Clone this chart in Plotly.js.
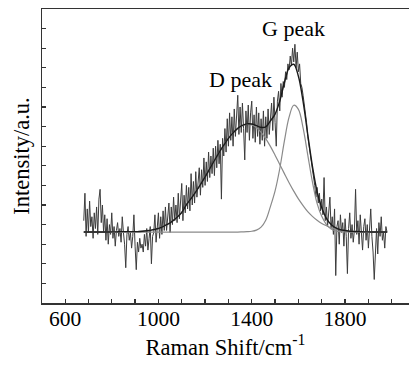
<!DOCTYPE html>
<html>
<head>
<meta charset="utf-8">
<script src="https://cdn.plot.ly/plotly-3.0.1.min.js"></script>
<style>html,body{margin:0;padding:0;background:#fff;}#chart{width:409px;height:367px;}</style>
</head>
<body>
<div id="chart"></div>
<script>
// Raw Raman spectrum, 680..1980 cm-1 step 5
const rawStart = 680, rawStep = 5;
const rawIntensity = [
  4.2, 5.6, 3.4, 4.8, 3.6, 5.2, 3.9, 4.4, 3.3, 4.6,
  3.8, 4.9, 3.5, 5.3, 5.8, 4.1, 5.0, 3.6, 4.5, 3.2,
  4.3, 3.0, 4.0, 3.5, 4.6, 3.3, 3.9, 2.9, 3.7, 4.1,
  3.4, 3.8, 3.1, 4.4, 3.6, 3.0, 1.8, 3.5, 3.9, 3.2,
  3.6, 2.8, 3.4, 4.5, 2.9, 1.7, 3.1, 2.6, 3.3, 2.8,
  3.0, 2.6, 3.5, 2.9, 3.8, 2.7, 3.3, 3.9, 2.0, 3.4,
  3.6, 4.5, 3.1, 4.2, 4.6, 3.3, 4.4, 3.5, 4.7, 3.7,
  4.9, 3.7, 4.5, 5.1, 3.6, 4.9, 4.0, 5.4, 4.2, 5.0,
  4.1, 5.6, 4.3, 5.2, 6.1, 4.2, 5.5, 4.6, 6.0, 4.8,
  5.9, 4.7, 6.6, 5.0, 6.2, 5.1, 6.7, 5.4, 6.4, 6.9,
  5.5, 6.8, 5.9, 7.4, 6.0, 7.2, 6.2, 7.7, 6.4, 7.5,
  6.6, 7.9, 6.5, 8.0, 6.9, 8.3, 7.1, 8.1, 5.3, 8.4,
  7.5, 8.9, 7.7, 9.4, 8.0, 9.7, 8.3, 9.5, 8.0, 9.9,
  8.5, 9.8, 10.6, 8.6, 10.0, 8.7, 10.2, 8.9, 7.3, 9.8,
  8.7, 10.1, 8.3, 9.7, 10.3, 8.4, 9.6, 8.2, 10.0, 8.5,
  9.7, 8.1, 9.4, 8.3, 9.8, 8.0, 9.5, 8.4, 9.9, 8.6,
  9.6, 10.2, 8.8, 10.5, 9.2, 8.0, 10.3, 10.8, 9.8, 11.2,
  10.5, 11.3, 11.0, 11.8, 11.4, 12.2, 11.9, 12.6, 12.1, 13.0,
  12.3, 13.2, 12.0, 12.8, 11.8, 12.2, 11.2, 11.0, 10.6, 10.2,
  9.6, 9.2, 8.5, 8.1, 7.6, 7.2, 6.8, 6.3, 6.0, 5.4,
  5.9, 5.1, 5.6, 4.7, 5.3, 4.5, 6.4, 4.2, 4.9, 3.9,
  4.6, 5.4, 3.8, 4.4, 3.5, 4.8, 1.4, 3.9, 4.2, 3.0,
  4.5, 3.6, 4.1, 2.9, 4.3, 3.4, 1.5, 3.8, 4.6, 3.3,
  4.0, 3.1, 3.7, 5.8, 3.5, 4.2, 3.0, 4.5, 3.6, 2.7,
  3.9, 4.3, 3.2, 4.0, 2.8, 3.7, 4.8, 3.4, 2.6, 1.2,
  3.0, 3.8, 2.5, 4.1, 3.4, 4.4, 3.2, 3.6, 2.8, 3.9,
  3.6
];
const rawShift = rawIntensity.map((_, i) => rawStart + i * rawStep);

// Fitted curves, 680..1980 cm-1 step 20
const fitShift = [
  680, 700, 720, 740, 760, 780, 800, 820, 840, 860,
  880, 900, 920, 940, 960, 980, 1000, 1020, 1040, 1060,
  1080, 1100, 1120, 1140, 1160, 1180, 1200, 1220, 1240, 1260,
  1280, 1300, 1320, 1340, 1360, 1380, 1400, 1420, 1440, 1460,
  1480, 1500, 1520, 1540, 1560, 1580, 1600, 1620, 1640, 1660,
  1680, 1700, 1720, 1740, 1760, 1780, 1800, 1820, 1840, 1860,
  1880, 1900, 1920, 1940, 1960, 1980
];
const dPeakFit = [
  3.62, 3.62, 3.62, 3.62, 3.62, 3.62, 3.63, 3.63, 3.64, 3.64,
  3.64, 3.64, 3.65, 3.67, 3.70, 3.75, 3.80, 3.90, 4.02, 4.18,
  4.38, 4.62, 5.02, 5.33, 5.67, 6.04, 6.43, 6.85, 7.27, 7.67,
  8.05, 8.40, 8.68, 8.91, 9.05, 9.12, 9.09, 8.95, 8.71, 8.39,
  7.99, 7.54, 7.07, 6.60, 6.14, 5.71, 5.31, 4.97, 4.66, 4.42,
  4.22, 4.06, 3.94, 3.84, 3.77, 3.72, 3.69, 3.66, 3.65, 3.64,
  3.63, 3.63, 3.62, 3.62, 3.62, 3.62
];
const gPeakFit = [
  3.62, 3.62, 3.62, 3.62, 3.62, 3.62, 3.62, 3.62, 3.62, 3.62,
  3.62, 3.62, 3.62, 3.62, 3.62, 3.62, 3.62, 3.62, 3.62, 3.62,
  3.62, 3.62, 3.62, 3.62, 3.62, 3.62, 3.62, 3.62, 3.62, 3.62,
  3.62, 3.62, 3.62, 3.62, 3.63, 3.64, 3.66, 3.72, 3.87, 4.22,
  4.92, 5.72, 6.85, 8.27, 9.48, 10.09, 9.88, 8.93, 7.56, 6.18,
  5.08, 4.42, 4.00, 3.78, 3.68, 3.64, 3.63, 3.62, 3.62, 3.62,
  3.62, 3.62, 3.62, 3.62, 3.62, 3.62
];
const sumFit = [
  3.62, 3.62, 3.62, 3.62, 3.62, 3.62, 3.63, 3.63, 3.64, 3.64,
  3.64, 3.64, 3.65, 3.67, 3.70, 3.75, 3.80, 3.90, 4.02, 4.18,
  4.38, 4.62, 5.02, 5.33, 5.67, 6.04, 6.43, 6.85, 7.27, 7.67,
  8.05, 8.40, 8.68, 8.91, 9.06, 9.14, 9.13, 9.05, 8.96, 8.99,
  9.29, 9.64, 10.30, 11.25, 12.00, 12.18, 11.57, 10.28, 8.60, 6.98,
  5.68, 4.86, 4.32, 4.00, 3.83, 3.74, 3.70, 3.66, 3.65, 3.64,
  3.63, 3.63, 3.62, 3.62, 3.62, 3.62
];

const xTickVals = [600, 1000, 1400, 1800];
const xTickText = ['600', '1000', '1400', '1800'];
const peakLabels = ['D peak', 'G peak'];
const peakLabelX = [1350, 1577];
const peakLabelY = [11.4, 14.0];

const serif = '"Liberation Serif", "Times New Roman", Times, serif';

const traces = [
  {x: rawShift, y: rawIntensity, type: 'scatter', mode: 'lines',
   line: {color: '#3c3c3c', width: 1}, hoverinfo: 'skip'},
  {x: fitShift, y: dPeakFit, type: 'scatter', mode: 'lines',
   line: {color: '#8a8a8a', width: 1.2, shape: 'spline'}},
  {x: fitShift, y: gPeakFit, type: 'scatter', mode: 'lines',
   line: {color: '#8a8a8a', width: 1.2, shape: 'spline'}},
  {x: fitShift, y: sumFit, type: 'scatter', mode: 'lines',
   line: {color: '#1a1a1a', width: 1.4, shape: 'spline'}}
];

const layout = {
  width: 409, height: 367,
  margin: {l: 42, r: 0, t: 9, b: 64},
  paper_bgcolor: '#ffffff', plot_bgcolor: '#ffffff',
  showlegend: false,
  font: {family: serif, color: '#000', size: 21},
  xaxis: {
    range: [501, 2074], showgrid: false, zeroline: false,
    showline: true, linecolor: '#333', linewidth: 1.5, mirror: true,
    ticks: 'inside', ticklen: 4, tickwidth: 1.2, tickcolor: '#333',
    tickvals: xTickVals, ticktext: xTickText,
    ticklabelstandoff: -4,
    minor: {ticks: 'inside', dtick: 100, tick0: 600, ticklen: 4, tickwidth: 1.2, tickcolor: '#333'},
    tickfont: {family: serif, size: 21.5, color: '#000'},
    title: {text: 'Raman Shift/cm<sup>-1</sup>', font: {family: serif, size: 22.5, color: '#000'}, standoff: 0}
  },
  yaxis: {
    range: [0, 15], showgrid: false, zeroline: false,
    showline: true, linecolor: '#333', linewidth: 1.5,
    ticks: 'inside', ticklen: 4, tickwidth: 1.2, tickcolor: '#333',
    dtick: 1, tick0: 0, showticklabels: false,
    title: {text: 'Intensity/a.u.', font: {family: serif, size: 22.5, color: '#000'}, standoff: 4}
  },
  annotations: peakLabels.map((t, i) => ({
    x: peakLabelX[i], y: peakLabelY[i], xref: 'x', yref: 'y',
    text: t, showarrow: false, font: {family: serif, size: 22, color: '#000'}
  }))
};

Plotly.newPlot('chart', traces, layout, {displayModeBar: false, staticPlot: true});
</script>
</body>
</html>
